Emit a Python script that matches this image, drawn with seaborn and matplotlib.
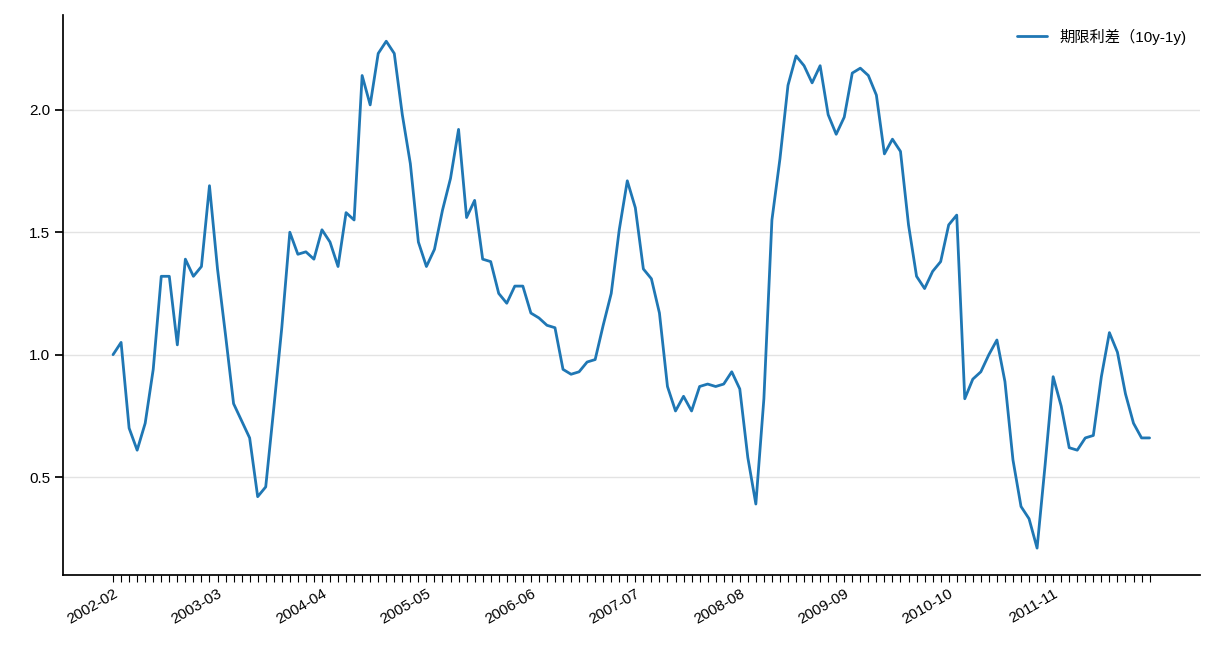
import numpy as np
import pandas as pd
import matplotlib
matplotlib.use("Agg")
import matplotlib.pyplot as plt
import seaborn as sns

values = [1.00,1.05,0.70,0.61,0.72,0.94,1.32,1.32,1.04,1.39,1.32,1.36,1.69,1.35,1.08,0.80,0.73,0.66,0.42,0.46,
          0.78,1.11,1.50,1.41,1.42,1.39,1.51,1.46,1.36,1.58,1.55,2.14,2.02,2.23,2.28,2.23,1.98,1.78,1.46,1.36,
          1.43,1.59,1.72,1.92,1.56,1.63,1.39,1.38,1.25,1.21,1.28,1.28,1.17,1.15,1.12,1.11,0.94,0.92,0.93,0.97,
          0.98,1.12,1.25,1.51,1.71,1.60,1.35,1.31,1.17,0.87,0.77,0.83,0.77,0.87,0.88,0.87,0.88,0.93,0.86,0.58,
          0.39,0.82,1.55,1.80,2.10,2.22,2.18,2.11,2.18,1.98,1.90,1.97,2.15,2.17,2.14,2.06,1.82,1.88,1.83,1.53,
          1.32,1.27,1.34,1.38,1.53,1.57,0.82,0.90,0.93,1.00,1.06,0.89,0.57,0.38,0.33,0.21,0.55,0.91,0.79,0.62,
          0.61,0.66,0.67,0.91,1.09,1.01,0.84,0.72,0.66,0.66]
dates = pd.date_range("2002-02-01", periods=len(values), freq="MS").strftime("%Y-%m").tolist()
series_name = "期限利差（10y-1y)"

sns.set_theme(style="ticks", rc={"text.color": "black", "xtick.color": "black",
                                 "ytick.color": "black", "axes.edgecolor": "black"})
plt.rcParams['font.family'] = ['Liberation Sans', 'Noto Sans CJK SC', 'DejaVu Sans']

df = pd.DataFrame({"pos": np.arange(len(values)), "date": dates, "v": values})
fig, ax = plt.subplots(figsize=(12.16, 6.72), dpi=100)
fig.subplots_adjust(left=0.052, right=0.987, top=0.978, bottom=0.145)
sns.lineplot(data=df, x="pos", y="v", ax=ax, color="#1f77b4", lw=2.0, label=series_name)
ax.set_xticks(df["pos"])
ax.set_xticklabels([d if i % 13 == 0 else "" for i, d in enumerate(dates)],
                   rotation=30, ha="right", rotation_mode="anchor", fontsize=11)
ax.tick_params(axis="x", length=5, width=0.8)
ax.tick_params(axis="y", labelsize=11)
ax.set_xlim(-6.2, len(values) - 1 + 6.3)
ax.set_ylim(0.102, 2.388)
ax.set_yticks([0.5, 1.0, 1.5, 2.0])
ax.yaxis.grid(True, color="#e3e3e3", lw=1)
ax.set_xlabel(""); ax.set_ylabel("")
sns.despine(ax=ax)
ax.legend(frameon=False, fontsize=11, loc="upper right", handlelength=2.0)
fig.savefig("out.png", dpi=100)
